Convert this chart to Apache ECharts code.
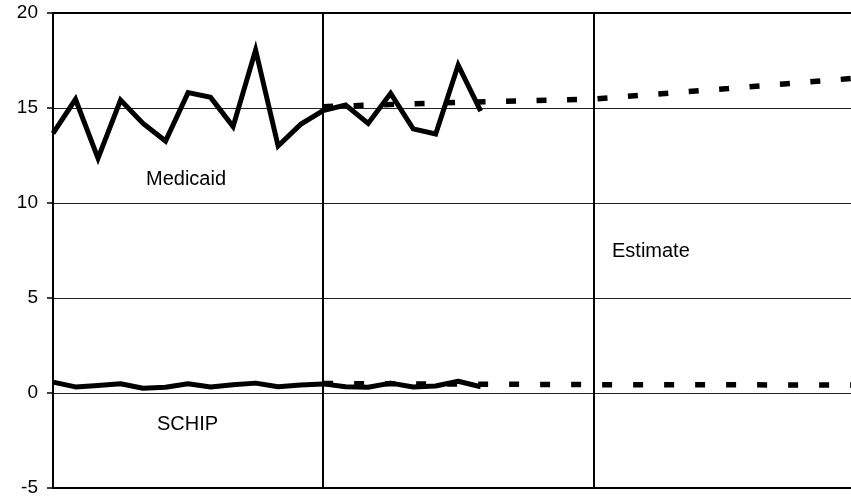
<!DOCTYPE html>
<html>
<head>
<meta charset="utf-8">
<script src="https://cdn.jsdelivr.net/npm/echarts@6/dist/echarts.min.js"></script>
<style>
html,body{margin:0;padding:0;background:#fff;}
#c{width:851px;height:502px;}
</style>
</head>
<body>
<div id="c"></div>
<script>
// Period index (x) and values
var medicaidActual = [13.67,15.46,12.35,15.42,14.19,13.26,15.81,15.56,14.02,18.05,13.0,14.14,14.86,15.16,14.19,15.77,13.9,13.63,17.26,14.84];
var schipActual = [0.57,0.32,0.4,0.49,0.25,0.3,0.49,0.32,0.44,0.52,0.33,0.42,0.48,0.33,0.3,0.52,0.32,0.37,0.62,0.33];
var projX = [12,18,24,30,35.45];
var medicaidProj = [15.07,15.3,15.47,16.03,16.55];
var schipProj = [0.5,0.47,0.44,0.43,0.42];
var dividers = [12,24];
var yTicks = [-5,0,5,10,15,20];

function pairs(xs, ys){ return ys.map(function(v,i){ return [xs[i], v]; }); }
var actX = medicaidActual.map(function(_,i){ return i; });

var FONT = "'Liberation Sans', Arial, sans-serif";
var chart = echarts.init(document.getElementById('c'), null, {renderer:'canvas'});
chart.setOption({
  animation:false,
  backgroundColor:'#fff',
  grid:{left:53, right:0, top:13, bottom:14},
  xAxis:[{
    type:'value', min:0, max:35.45, position:'bottom',
    axisLine:{show:true, onZero:false, lineStyle:{color:'#000', width:2}},
    axisTick:{show:false}, axisLabel:{show:false}, splitLine:{show:false}
  },{
    type:'value', min:0, max:35.45, position:'top',
    axisLine:{show:true, onZero:false, lineStyle:{color:'#000', width:2}},
    axisTick:{show:false}, axisLabel:{show:false}, splitLine:{show:false}
  }],
  yAxis:{
    type:'value', min:yTicks[0], max:yTicks[yTicks.length-1], interval:5,
    axisLine:{show:true, onZero:false, lineStyle:{color:'#000', width:2}},
    axisTick:{show:true, inside:false, length:6, lineStyle:{color:'#000', width:1.5}},
    axisLabel:{color:'#000', fontSize:19, fontFamily:FONT, margin:15},
    splitLine:{show:true, lineStyle:{color:'#222', width:1}}
  },
  series:[
    {
      type:'line', name:'Medicaid projection', data:pairs(projX, medicaidProj),
      showSymbol:false, symbol:'none', silent:true,
      lineStyle:{color:'#000', width:5.5, type:[10,20.5], cap:'butt'},
      markLine:{
        silent:true, symbol:'none', label:{show:false},
        lineStyle:{color:'#000', width:2, type:'solid'},
        data: dividers.map(function(d){ return {xAxis:d}; })
      }
    },
    {
      type:'line', name:'SCHIP projection', data:pairs(projX, schipProj),
      showSymbol:false, symbol:'none', silent:true,
      lineStyle:{color:'#000', width:5.5, type:[10,21], cap:'butt'}
    },
    {
      type:'line', name:'Medicaid', data:pairs(actX, medicaidActual),
      showSymbol:false, symbol:'none', silent:true,
      lineStyle:{color:'#000', width:5, join:'miter', cap:'butt'}
    },
    {
      type:'line', name:'SCHIP', data:pairs(actX, schipActual),
      showSymbol:false, symbol:'none', silent:true,
      lineStyle:{color:'#000', width:5, join:'round', cap:'butt'}
    }
  ],
  graphic:[
    {type:'text', left:146, top:169, style:{text:'Medicaid', fontSize:20, fontFamily:FONT, fill:'#000'}},
    {type:'text', left:157, top:414, style:{text:'SCHIP', fontSize:20, fontFamily:FONT, fill:'#000'}},
    {type:'text', left:612, top:241, style:{text:'Estimate', fontSize:20, fontFamily:FONT, fill:'#000'}}
  ]
});
</script>
</body>
</html>
